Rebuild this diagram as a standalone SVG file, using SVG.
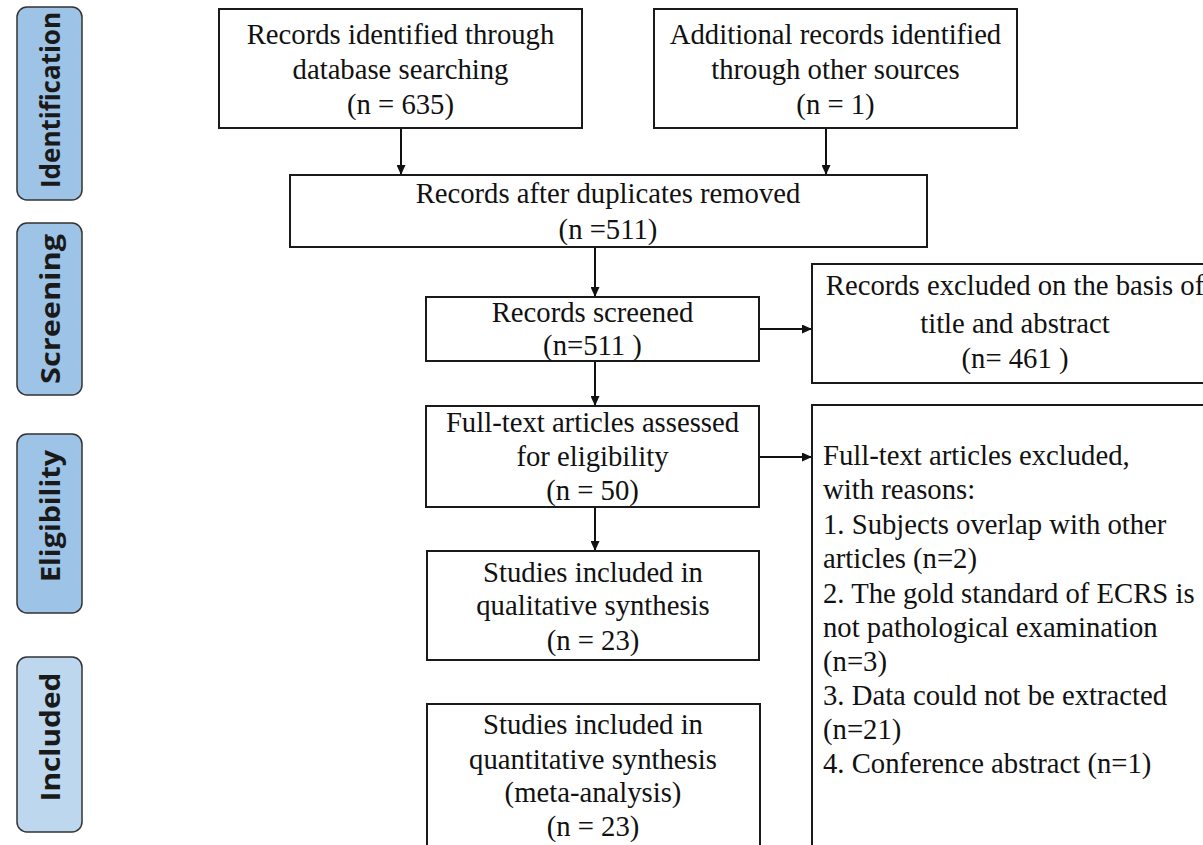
<svg xmlns="http://www.w3.org/2000/svg" width="1203" height="845" viewBox="0 0 1203 845">
<style>
.box{fill:#fff;stroke:#1a1a1a;stroke-width:2}
.t{font-family:"Liberation Serif","Times New Roman",serif;font-size:28.7px;fill:#111}
.c{text-anchor:middle}
.pill{stroke:#333;stroke-width:1.5}
.pa{fill:#9DC3E6}
.pb{fill:#BDD7EE}
.pt{font-family:"Open Sans","Noto Sans",sans-serif;font-weight:700;font-size:26px;fill:#1a1a1a;text-anchor:middle}
.conn{stroke:#111;stroke-width:2;fill:none;marker-end:url(#ah)}
</style>
<defs>
<marker id="ah" markerUnits="userSpaceOnUse" markerWidth="10" markerHeight="9" refX="10" refY="4.5" orient="auto">
<path d="M0,0 L10,4.5 L0,9 z" fill="#111"/>
</marker>
</defs>
<rect width="1203" height="845" fill="#fff"/>
<g id="phase-identification">
<rect class="pill pa" x="17" y="7" width="65" height="193" rx="10"/>
<text class="pt" transform="translate(60,100) rotate(-90)" textLength="176" lengthAdjust="spacingAndGlyphs">Identification</text>
</g>
<g id="phase-screening">
<rect class="pill pa" x="17" y="223" width="65" height="172" rx="10"/>
<text class="pt" transform="translate(60,309) rotate(-90)" textLength="150" lengthAdjust="spacingAndGlyphs">Screening</text>
</g>
<g id="phase-eligibility">
<rect class="pill pa" x="17" y="434" width="65" height="179" rx="10"/>
<text class="pt" transform="translate(60,516) rotate(-90)" textLength="132" lengthAdjust="spacingAndGlyphs">Eligibility</text>
</g>
<g id="phase-included">
<rect class="pill pb" x="17" y="657" width="65" height="175" rx="10"/>
<text class="pt" transform="translate(60,737) rotate(-90)" textLength="129" lengthAdjust="spacingAndGlyphs">Included</text>
</g>
<g id="connectors">
<path class="conn" d="M401,128 V175"/>
<path class="conn" d="M826,128 V175"/>
<path class="conn" d="M595,247 V297"/>
<path class="conn" d="M759,329 H812"/>
<path class="conn" d="M595,361 V406"/>
<path class="conn" d="M759,457 H812"/>
<path class="conn" d="M595,507 V551"/>
</g>
<g id="n1">
<rect class="box" x="219" y="9" width="363" height="119"/>
<text class="t c" x="400.5" y="44">Records identified through</text>
<text class="t c" x="400.5" y="79">database searching</text>
<text class="t c" x="400.5" y="114">(n = 635)</text>
</g>
<g id="n2">
<rect class="box" x="654" y="9" width="363" height="119"/>
<text class="t c" x="835.5" y="44">Additional records identified</text>
<text class="t c" x="835.5" y="79">through other sources</text>
<text class="t c" x="835.5" y="114">(n = 1)</text>
</g>
<g id="n3">
<rect class="box" x="290" y="175" width="637" height="72"/>
<text class="t c" x="608" y="203">Records after duplicates removed</text>
<text class="t c" x="608" y="239">(n =511)</text>
</g>
<g id="n4">
<rect class="box" x="426" y="297" width="333" height="64"/>
<text class="t c" x="592.5" y="322">Records screened</text>
<text class="t c" x="592.5" y="355">(n=511 )</text>
</g>
<g id="n5">
<rect class="box" x="812" y="264" width="410" height="119"/>
<text class="t c" x="1015" y="295">Records excluded on the basis of</text>
<text class="t c" x="1015" y="333">title and abstract</text>
<text class="t c" x="1015" y="368">(n= 461 )</text>
</g>
<g id="n6">
<rect class="box" x="426" y="406" width="333" height="101"/>
<text class="t c" x="592.5" y="432">Full-text articles assessed</text>
<text class="t c" x="592.5" y="466">for eligibility</text>
<text class="t c" x="592.5" y="500">(n = 50)</text>
</g>
<g id="n7">
<rect class="box" x="812" y="405" width="410" height="460"/>
<text class="t" x="823" y="465">Full-text articles excluded,</text>
<text class="t" x="823" y="499">with reasons:</text>
<text class="t" x="823" y="534">1. Subjects overlap with other</text>
<text class="t" x="823" y="568">articles (n=2)</text>
<text class="t" x="823" y="603">2. The gold standard of ECRS is</text>
<text class="t" x="823" y="637">not pathological examination</text>
<text class="t" x="823" y="671">(n=3)</text>
<text class="t" x="823" y="705">3. Data could not be extracted</text>
<text class="t" x="823" y="739">(n=21)</text>
<text class="t" x="823" y="773">4. Conference abstract (n=1)</text>
</g>
<g id="n8">
<rect class="box" x="427" y="551" width="332" height="109"/>
<text class="t c" x="593" y="582">Studies included in</text>
<text class="t c" x="593" y="615">qualitative synthesis</text>
<text class="t c" x="593" y="650">(n = 23)</text>
</g>
<g id="n9">
<rect class="box" x="427" y="704" width="333" height="160"/>
<text class="t c" x="593" y="734">Studies included in</text>
<text class="t c" x="593" y="769">quantitative synthesis</text>
<text class="t c" x="593" y="802">(meta-analysis)</text>
<text class="t c" x="593" y="836">(n = 23)</text>
</g>
</svg>
